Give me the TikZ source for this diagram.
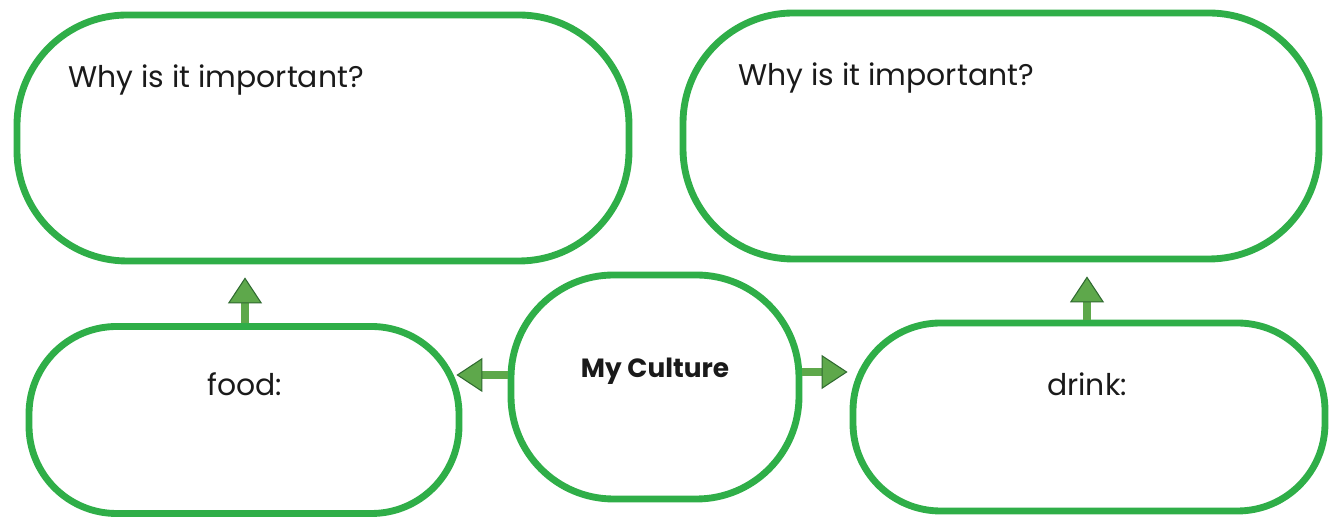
\documentclass[tikz,border=0pt]{standalone}
\usepackage{fontspec}
\setmainfont{Poppins}
\usetikzlibrary{arrows.meta,positioning}
\definecolor{ink}{HTML}{1A1A1A}
\definecolor{boxGreen}{HTML}{2FAE48}
\definecolor{arrowFill}{HTML}{5EA84B}
\definecolor{arrowEdge}{HTML}{2F6A30}
\tikzset{
  topic card/.style={
    draw=boxGreen,
    fill=white,
    line width=3.9pt,
    inner sep=0pt
  },
  question card/.style={
    topic card,
    minimum height=4.92cm,
    rounded corners=2.2cm
  },
  item card/.style={
    topic card,
    minimum height=3.74cm,
    rounded corners=1.75cm
  },
  card text/.style={
    font=\fontsize{17}{20}\selectfont,
    text=ink,
    inner sep=0pt
  },
  link edge/.style={
    draw=arrowFill,
    line width=5pt,
    -{Triangle[length=5.2mm,width=6.8mm,color=arrowEdge,fill=arrowFill,line width=0.6pt]}
  }
}
\begin{document}
\begin{tikzpicture}
  \useasboundingbox (0,0) rectangle (26.64,10.4);

  \node[question card,minimum width=12.24cm] (why-food) at (6.46,7.64) {};
  \node[question card,minimum width=12.72cm] (why-drink) at (20.02,7.68) {};
  \node[item card,minimum width=8.6cm] (food) at (4.88,2.0) {};
  \node[topic card,minimum width=5.76cm,minimum height=4.48cm,rounded corners=2.05cm] (culture) at (13.1,2.66) {};
  \node[item card,minimum width=9.44cm,minimum height=3.76cm] (drink) at (21.78,2.06) {};

  \node[card text,anchor=base west] (why-food-text) at (1.36,8.64) {Why is it important?};
  \node[card text,anchor=base west] (why-drink-text) at (14.76,8.68) {Why is it important?};
  \node[card text] (food-text) at (4.9,2.72) {food:};
  \node[card text] (drink-text) at (21.74,2.72) {drink:};
  \node[card text,font=\fontsize{15}{18}\selectfont\bfseries] (culture-text) at (13.1,2.98) {My Culture};

  \draw[link edge,shorten >=2.6mm] ([xshift=0.02cm]food.north) -- ([xshift=0.02cm]food.north |- why-food.south);
  \draw[link edge,shorten >=2.8mm] ([xshift=-0.04cm]drink.north) -- ([xshift=-0.04cm]drink.north |- why-drink.south);
  \draw[link edge] ([yshift=2.4mm]culture.west) -- ([yshift=2.4mm,xshift=-1.2mm]culture.west -| food.east);
  \draw[link edge] ([yshift=3mm]culture.east) -- ([yshift=3mm,xshift=-0.4mm]culture.east -| drink.west);
\end{tikzpicture}
\end{document}
